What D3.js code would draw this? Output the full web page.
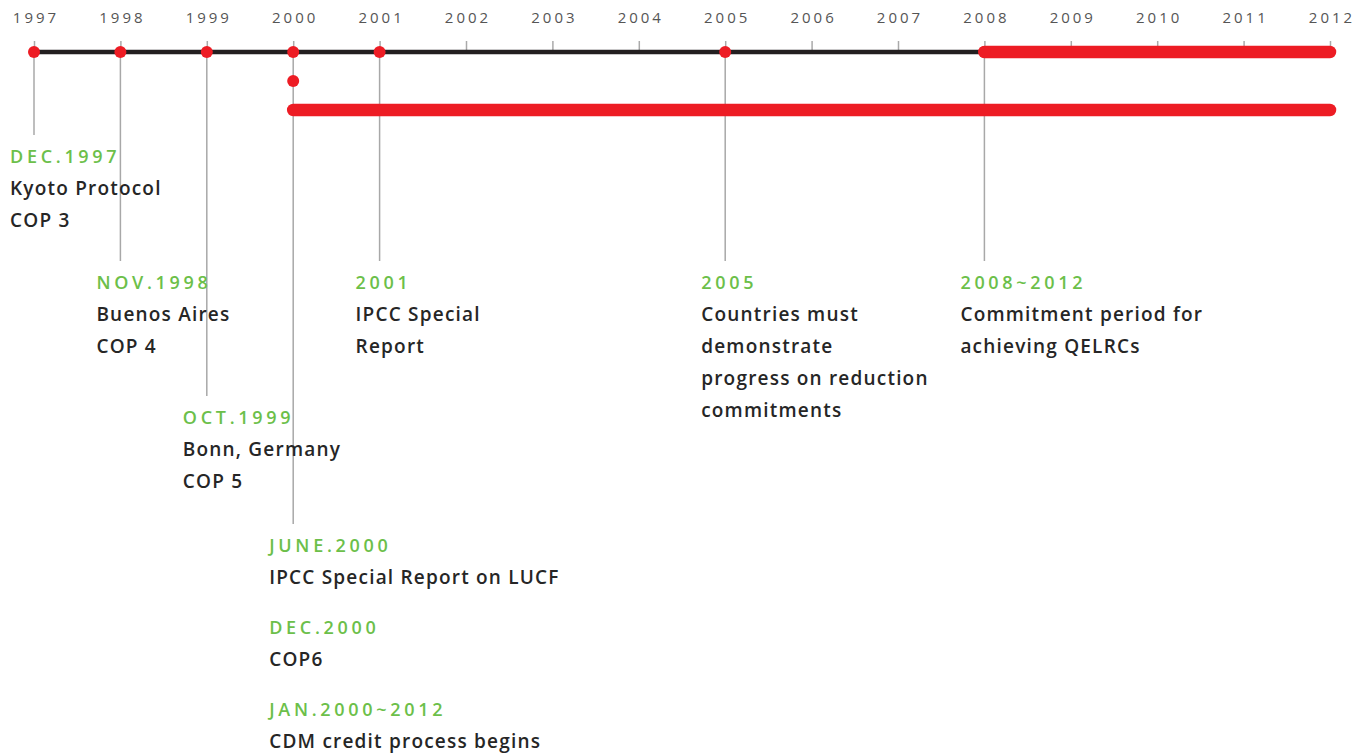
<!DOCTYPE html>
<html>
<head>
<meta charset="utf-8">
<script src="https://cdn.jsdelivr.net/npm/d3@7"></script>
<style>
  body { margin: 0; background: #fff; }
  .axis text { font-family: "Open Sans", sans-serif; font-size: 15px; fill: #555; letter-spacing: 3px; }
  .axis path { display: none; }
  .axis line { stroke: #aaa; stroke-width: 1.5px; }
  .date { font-family: "Open Sans", sans-serif; font-size: 18px; font-weight: 600; fill: #6cbf4a; letter-spacing: 3.7px; }
  .desc { font-family: "Open Sans", sans-serif; font-size: 19px; font-weight: 600; fill: #262626; letter-spacing: 1.2px; }
</style>
</head>
<body>
<svg id="chart"></svg>
<script>
// years on the axis
var years = d3.range(1997, 2013);

// events hanging off the main line; tier = which label row
var eventYears = [1997, 1998, 1999, 2000, 2001, 2005, 2008];
var eventTiers = [0, 1, 2, 3, 1, 1, 1];

// text blocks (date + description lines), grouped per event
var eventNotes = [
  [{ date: "DEC.1997", lines: ["Kyoto Protocol", "COP 3"] }],
  [{ date: "NOV.1998", lines: ["Buenos Aires", "COP 4"] }],
  [{ date: "OCT.1999", lines: ["Bonn, Germany", "COP 5"] }],
  [{ date: "JUNE.2000", lines: ["IPCC Special Report on LUCF"] },
   { date: "DEC.2000", lines: ["COP6"] },
   { date: "JAN.2000~2012", lines: ["CDM credit process begins"] }],
  [{ date: "2001", lines: ["IPCC Special", "Report"] }],
  [{ date: "2005", lines: ["Countries must", "demonstrate", "progress on reduction", "commitments"] }],
  [{ date: "2008~2012", lines: ["Commitment period for", "achieving QELRCs"] }]
];

// periods drawn as thick red bars: [start, end, track]
var periods = [[2008, 2012, 0], [2000, 2012, 2]];
// extra single dots: [year, track]
var extraDots = [[2000, 1]];

var width = 1364, height = 754;
var svg = d3.select("#chart").attr("width", width).attr("height", height);

var x = d3.scaleLinear().domain([1997, 2012]).range([34, 1330]);
var trackY = d3.scaleLinear().domain([0, 2]).range([52, 110]);
var tierY = [135, 261, 396, 524];
var lineH = 32;

// leader lines
svg.append("g").selectAll("line")
  .data(eventYears)
  .enter().append("line")
  .attr("x1", d => x(d)).attr("x2", d => x(d))
  .attr("y1", trackY(0))
  .attr("y2", (d, i) => tierY[eventTiers[i]])
  .attr("stroke", "#a8a8a8")
  .attr("stroke-width", 1.5);

// axis
var axis = svg.append("g")
  .attr("class", "axis")
  .attr("transform", "translate(0," + trackY(0) + ")")
  .call(d3.axisTop(x).tickValues(years).tickFormat(d3.format("d")).tickSize(11).tickPadding(18));
axis.selectAll("text").attr("dx", "1.5px");

// main black line
svg.append("line")
  .attr("x1", x(1997)).attr("x2", x(2012))
  .attr("y1", trackY(0)).attr("y2", trackY(0))
  .attr("stroke", "#231f20").attr("stroke-width", 4.5);

// red periods
svg.append("g").selectAll("line")
  .data(periods)
  .enter().append("line")
  .attr("x1", d => x(d[0])).attr("x2", d => x(d[1]))
  .attr("y1", d => trackY(d[2])).attr("y2", d => trackY(d[2]))
  .attr("stroke", "#ed1c24").attr("stroke-width", 12.5)
  .attr("stroke-linecap", "round");

// dots
svg.append("g").selectAll("circle")
  .data(eventYears.map(d => [d, 0]).concat(extraDots))
  .enter().append("circle")
  .attr("cx", d => x(d[0])).attr("cy", d => trackY(d[1]))
  .attr("r", 6)
  .attr("fill", "#ed1c24");

// labels
eventYears.forEach(function (yr, i) {
  var g = svg.append("g");
  var y = tierY[eventTiers[i]] + 28;
  eventNotes[i].forEach(function (note) {
    g.append("text").attr("class", "date")
      .attr("x", x(yr) - 24).attr("y", y).text(note.date);
    note.lines.forEach(function (ln) {
      y += lineH;
      g.append("text").attr("class", "desc")
        .attr("x", x(yr) - 24).attr("y", y).text(ln);
    });
    y += 50;
  });
});
</script>
</body>
</html>
